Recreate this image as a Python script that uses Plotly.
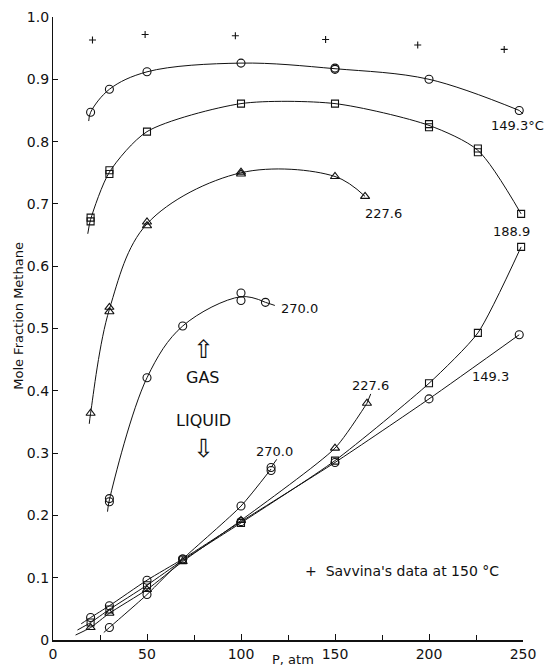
import plotly.graph_objects as go

# ---------------- data ----------------
# Savvina's data at 150 C
sav_p = [21, 49, 97, 145, 194, 240]
sav_y = [0.963, 0.972, 0.970, 0.964, 0.955, 0.948]

# gas phase markers
g149_p = [20, 30, 50, 100, 150, 150, 200, 248]
g149_y = [0.847, 0.884, 0.912, 0.926, 0.918, 0.916, 0.900, 0.850]
g189_p = [20, 20, 30, 30, 50, 100, 150, 200, 200, 226, 226, 249]
g189_y = [0.672, 0.678, 0.748, 0.754, 0.816, 0.861, 0.861, 0.823, 0.828, 0.783, 0.789, 0.684]
g228_p = [20, 30, 30, 50, 50, 100, 100, 150, 166]
g228_y = [0.364, 0.527, 0.534, 0.665, 0.671, 0.748, 0.751, 0.744, 0.712]
g270_p = [30, 30, 50, 69, 100, 100, 113]
g270_y = [0.222, 0.227, 0.421, 0.504, 0.545, 0.557, 0.542]

# gas phase smoothed curves (with short tails)
cg149_p = [19, 20, 30, 50, 100, 150, 200, 248]
cg149_y = [0.833, 0.847, 0.884, 0.912, 0.926, 0.917, 0.900, 0.850]
cg189_p = [18.5, 20, 30, 50, 100, 150, 200, 226, 249]
cg189_y = [0.652, 0.675, 0.751, 0.816, 0.861, 0.861, 0.826, 0.786, 0.684]
cg228_p = [19.3, 20, 30, 50, 100, 150, 166]
cg228_y = [0.347, 0.364, 0.531, 0.668, 0.750, 0.744, 0.712]
cg270_p = [29, 30, 50, 69, 100, 113]
cg270_y = [0.206, 0.225, 0.421, 0.504, 0.551, 0.542]

# liquid phase markers
l149_p = [20, 30, 50, 69, 100, 150, 200, 248]
l149_y = [0.036, 0.055, 0.096, 0.130, 0.190, 0.285, 0.387, 0.490]
l189_p = [20, 30, 50, 69, 100, 150, 200, 226, 249]
l189_y = [0.028, 0.049, 0.088, 0.128, 0.188, 0.288, 0.412, 0.493, 0.631]
l228_p = [20, 30, 50, 69, 100, 150, 167]
l228_y = [0.020, 0.043, 0.081, 0.126, 0.192, 0.308, 0.380]
l270_p = [30, 50, 69, 100, 116, 116]
l270_y = [0.020, 0.073, 0.130, 0.215, 0.272, 0.277]

# liquid phase curves (with short tails)
cl149_p = [15] + l149_p
cl149_y = [0.026] + l149_y
cl189_p = [13] + l189_p
cl189_y = [0.016] + l189_y
cl228_p = [12] + l228_p
cl228_y = [0.008] + l228_y
cl270_p = [27, 30, 50, 69, 100, 116]
cl270_y = [0.012, 0.020, 0.073, 0.130, 0.215, 0.2745]

x_ticks = [0, 50, 100, 150, 200, 250]
y_ticks = [0, 0.1, 0.2, 0.3, 0.4, 0.5, 0.6, 0.7, 0.8, 0.9, 1.0]
y_ticktext = ["0", "0.1", "0.2", "0.3", "0.4", "0.5", "0.6", "0.7", "0.8", "0.9", "1.0"]

FONT = "DejaVu Sans"
INK = "#111111"

fig = go.Figure()

def curve(px, py, smooth=1.0):
    fig.add_trace(go.Scatter(x=px, y=py, mode="lines", line=dict(color=INK, width=1, shape="spline", smoothing=smooth),
                             hoverinfo="skip", showlegend=False, cliponaxis=False))

def marks(px, py, sym, size):
    fig.add_trace(go.Scatter(x=px, y=py, mode="markers",
                             marker=dict(symbol=sym, size=size, color=INK, line=dict(color=INK, width=1.1)),
                             showlegend=False, cliponaxis=False))

curve(cg149_p, cg149_y, 1.0)
curve(cg189_p, cg189_y, 0.75)
curve(cg228_p, cg228_y, 1.0)
curve(cg270_p, cg270_y, 1.0)
for cp, cy in [(cl149_p, cl149_y), (cl189_p, cl189_y), (cl228_p, cl228_y), (cl270_p, cl270_y)]:
    curve(cp, cy, 0.6)

marks(g149_p, g149_y, "circle-open", 8)
marks(g189_p, g189_y, "square-open", 7)
marks(g228_p, g228_y, "triangle-up-open", 8)
marks(g270_p, g270_y, "circle-open", 8)
marks(l149_p, l149_y, "circle-open", 8)
marks(l189_p, l189_y, "square-open", 7)
marks(l228_p, l228_y, "triangle-up-open", 8)
marks(l270_p, l270_y, "circle-open", 8)
marks(sav_p, sav_y, "cross-thin", 5)

def label(x, y, text, size=13, xanchor="center"):
    fig.add_annotation(x=x, y=y, xref="x", yref="y", text=text, showarrow=False,
                       font=dict(family=FONT, size=size, color=INK), xanchor=xanchor, yanchor="middle")

label(247, 0.826, "149.3°C")
label(244, 0.655, "188.9")
label(176, 0.685, "227.6")
label(131, 0.532, "270.0")
label(232.5, 0.4226, "149.3")
label(169, 0.408, "227.6")
label(118, 0.302, "270.0")
label(80, 0.422, "GAS", 16)
label(80, 0.353, "LIQUID", 16)
label(80, 0.467, "⇧", 25)
label(80, 0.307, "⇩", 25)
label(133, 0.11, "+  Savvina's data at 150 °C", 14, xanchor="left")

# leader lines to labels
for (x0, y0, x1, y1) in [(248, 0.850, 251, 0.842), (113, 0.542, 118, 0.537),
                         (116, 0.277, 119, 0.290), (167, 0.380, 169, 0.395)]:
    fig.add_shape(type="line", x0=x0, y0=y0, x1=x1, y1=y1, xref="x", yref="y",
                  line=dict(color=INK, width=1))

# axis titles
fig.add_annotation(x=-0.075, y=0.52, xref="paper", yref="paper", text="Mole Fraction Methane",
                   textangle=-90, showarrow=False, font=dict(family=FONT, size=13, color=INK),
                   xanchor="center", yanchor="middle")
fig.add_annotation(x=0.51, y=-0.031, xref="paper", yref="paper", text="P, atm",
                   showarrow=False, font=dict(family=FONT, size=13, color=INK),
                   xanchor="center", yanchor="middle")

fig.update_layout(
    width=544, height=668, autosize=False,
    margin=dict(l=53, r=21, t=17, b=28),
    paper_bgcolor="white", plot_bgcolor="white",
    font=dict(family=FONT, color=INK, size=14),
    xaxis=dict(range=[0, 250], tickvals=x_ticks, ticks="inside", ticklen=6, tickwidth=1,
               tickcolor=INK, showline=True, linecolor=INK, linewidth=1.5, showgrid=False,
               zeroline=False, automargin=False, tickfont=dict(size=14),
               minor=dict(dtick=25, ticks="inside", ticklen=5, tickcolor=INK, showgrid=False)),
    yaxis=dict(range=[0, 1.0], tickvals=y_ticks, ticktext=y_ticktext, ticks="inside", ticklen=5,
               tickwidth=1, tickcolor=INK, showline=True, linecolor=INK, linewidth=1.2,
               showgrid=False, zeroline=False, automargin=False, tickfont=dict(size=14)),
)

fig.write_html("out.html")
